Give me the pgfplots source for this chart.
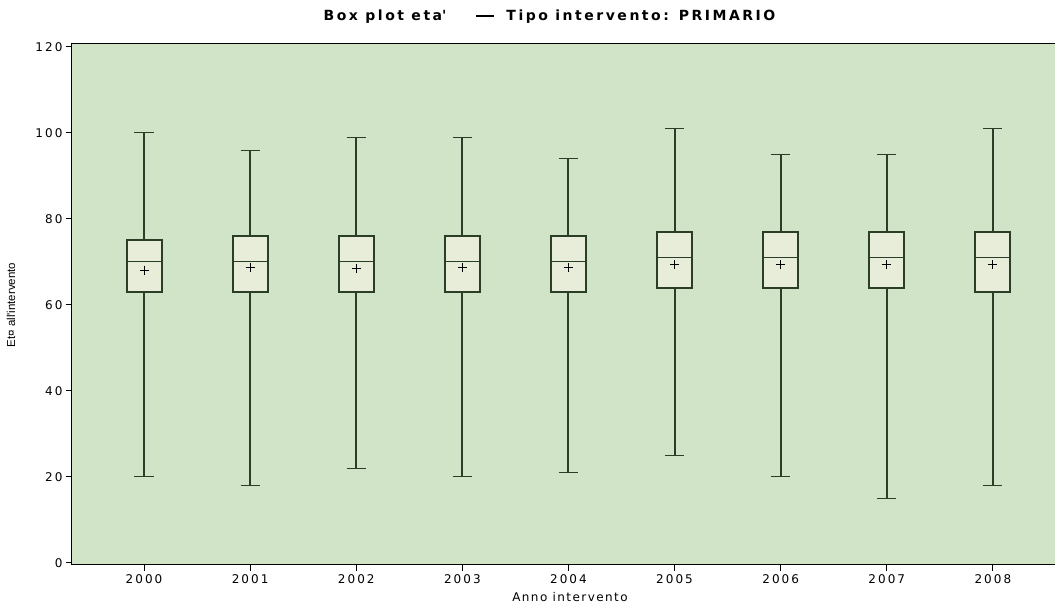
\documentclass[border=0pt]{standalone}
\usepackage{pgfplots}
\pgfplotsset{compat=1.18}
\usepackage{fontspec}
\setmainfont{Liberation Sans}
\newfontfamily\tickfont{DejaVu Sans}[LetterSpace=17]
\newfontfamily\xlabfont{DejaVu Sans}[LetterSpace=12]
\newfontfamily\titlefont{DejaVu Sans}[LetterSpace=18]
\definecolor{bg}{RGB}{210,228,200}
\definecolor{boxf}{RGB}{232,237,217}
\definecolor{lc}{RGB}{40,62,38}
\begin{document}
\begin{tikzpicture}
\useasboundingbox (0pt,0pt) rectangle (1055pt,604pt);
\begin{axis}[
  at={(72pt,39pt)}, anchor=south west,
  scale only axis, width=986pt, height=521.5pt,
  xmin=-0.679, xmax=8.614, ymin=-0.5, ymax=120.8,
  axis background/.style={fill=bg},
  axis line style={black, line width=1pt},
  xtick={0,...,8},
  xticklabels={2000,2001,2002,2003,2004,2005,2006,2007,2008},
  ytick={0,20,40,60,80,100,120},
  tick pos=left, tick align=outside,
  major tick length=6pt,
  tick style={black, line width=1pt},
  ticklabel style={font=\tickfont\fontsize{12}{13}\selectfont},
  /pgf/number format/assume math mode=true,
  unbounded coords=jump,
]
% whiskers (lower whisker to Q1, Q3 to upper whisker)
\addplot[lc, line width=2pt, mark=none] coordinates {
(0,20) (0,63) (0,nan) (0,75) (0,100) (0,nan)
(1,18) (1,63) (1,nan) (1,76) (1,96) (1,nan)
(2,22) (2,63) (2,nan) (2,76) (2,99) (2,nan)
(3,20) (3,63) (3,nan) (3,76) (3,99) (3,nan)
(4,21) (4,63) (4,nan) (4,76) (4,94) (4,nan)
(5,25) (5,64) (5,nan) (5,77) (5,101) (5,nan)
(6,20) (6,64) (6,nan) (6,77) (6,95) (6,nan)
(7,15) (7,64) (7,nan) (7,77) (7,95) (7,nan)
(8,18) (8,63) (8,nan) (8,77) (8,101)
};
% whisker caps
\addplot[lc, line width=1pt, mark=none] coordinates {
(-0.09,20) (0.09,20) (0,nan) (-0.09,100) (0.09,100) (0,nan)
(0.91,18) (1.09,18) (1,nan) (0.91,96) (1.09,96) (1,nan)
(1.91,22) (2.09,22) (2,nan) (1.91,99) (2.09,99) (2,nan)
(2.91,20) (3.09,20) (3,nan) (2.91,99) (3.09,99) (3,nan)
(3.91,21) (4.09,21) (4,nan) (3.91,94) (4.09,94) (4,nan)
(4.91,25) (5.09,25) (5,nan) (4.91,101) (5.09,101) (5,nan)
(5.91,20) (6.09,20) (6,nan) (5.91,95) (6.09,95) (6,nan)
(6.91,15) (7.09,15) (7,nan) (6.91,95) (7.09,95) (7,nan)
(7.91,18) (8.09,18) (8,nan) (7.91,101) (8.09,101)
};
% boxes (Q1 to Q3)
\addplot[fill=boxf, draw=lc, line width=2pt, mark=none] coordinates {(-0.165,63) (0.165,63) (0.165,75) (-0.165,75)} -- cycle;
\addplot[fill=boxf, draw=lc, line width=2pt, mark=none] coordinates {(0.835,63) (1.165,63) (1.165,76) (0.835,76)} -- cycle;
\addplot[fill=boxf, draw=lc, line width=2pt, mark=none] coordinates {(1.835,63) (2.165,63) (2.165,76) (1.835,76)} -- cycle;
\addplot[fill=boxf, draw=lc, line width=2pt, mark=none] coordinates {(2.835,63) (3.165,63) (3.165,76) (2.835,76)} -- cycle;
\addplot[fill=boxf, draw=lc, line width=2pt, mark=none] coordinates {(3.835,63) (4.165,63) (4.165,76) (3.835,76)} -- cycle;
\addplot[fill=boxf, draw=lc, line width=2pt, mark=none] coordinates {(4.835,64) (5.165,64) (5.165,77) (4.835,77)} -- cycle;
\addplot[fill=boxf, draw=lc, line width=2pt, mark=none] coordinates {(5.835,64) (6.165,64) (6.165,77) (5.835,77)} -- cycle;
\addplot[fill=boxf, draw=lc, line width=2pt, mark=none] coordinates {(6.835,64) (7.165,64) (7.165,77) (6.835,77)} -- cycle;
\addplot[fill=boxf, draw=lc, line width=2pt, mark=none] coordinates {(7.835,63) (8.165,63) (8.165,77) (7.835,77)} -- cycle;
% medians
\addplot[lc, line width=1pt, mark=none] coordinates {
(-0.165,70) (0.165,70) (0,nan)
(0.835,70) (1.165,70) (1,nan)
(1.835,70) (2.165,70) (2,nan)
(2.835,70) (3.165,70) (3,nan)
(3.835,70) (4.165,70) (4,nan)
(4.835,71) (5.165,71) (5,nan)
(5.835,71) (6.165,71) (6,nan)
(6.835,71) (7.165,71) (7,nan)
(7.835,71) (8.165,71)
};
% means
\addplot[only marks, mark=+, mark size=4.5pt, mark options={line width=1pt, black}] coordinates {
(0,68.1) (1,68.8) (2,68.4) (3,68.8) (4,68.6) (5,69.3) (6,69.3) (7,69.3) (8,69.3)};
\end{axis}
\node at (549.5pt,587pt) {\titlefont\fontsize{14}{16}\selectfont\bfseries Box plot eta\textquotesingle\hspace{30pt}\rule[3.5pt]{18pt}{2.4pt}\hspace{12pt}Tipo intervento: PRIMARIO};
\node[anchor=base] at (570pt,2.5pt) {\xlabfont\fontsize{12}{13}\selectfont Anno intervento};
\node[rotate=90] at (11pt,299pt) {\fontsize{11.5}{12}\selectfont Et¤ all\textquotesingle intervento};
\end{tikzpicture}
\end{document}
